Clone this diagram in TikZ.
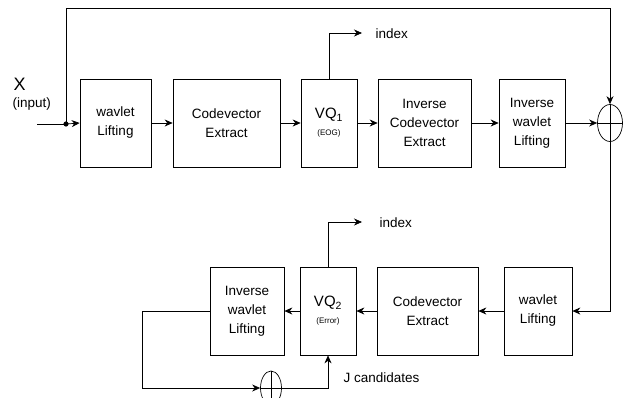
\documentclass[tikz,border=0pt]{standalone}
\usepackage{fontspec}
\setmainfont{Liberation Sans}
\usetikzlibrary{shapes.geometric, arrows.meta, positioning}
\tikzstyle{arrow} = [->, >={Stealth[length=8pt, width=7pt]}]
\tikzstyle{block} = [draw, align=center, inner sep=0pt, font=\fontsize{13.5}{19}\selectfont]
\tikzstyle{summer} = [draw, ellipse, inner sep=0pt]

\begin{document}
\begin{tikzpicture}[x=1pt, y=-1pt, line width=0.7pt]
    \useasboundingbox (0,0) rectangle (631,397);

    % Points
    \coordinate (Input) at (37,124);
    \coordinate (Tap) at (66,124);
    \coordinate (TopLeft) at (66,8);
    \coordinate (TopRight) at (610,8);
    \coordinate (Turn) at (610,311);
    \coordinate (IdxOne) at (362,33);
    \coordinate (IdxTwo) at (362,222);
    \coordinate (Back) at (142,311);

    % Upper row
    \node[block, minimum width=71, minimum height=88] (WavLift1) at (115.5,123) {wavlet\\Lifting};
    \node[block, minimum width=107, minimum height=88] (CodeExt1) at (226.5,123) {Codevector\\Extract};
    \node[block, minimum width=56, minimum height=88] (VQone) at (329,123) {\fontsize{15}{19}\selectfont VQ\textsubscript{1}\\[-2pt]{\fontsize{8}{9}\selectfont (EOG)}};
    \node[block, minimum width=93, minimum height=88] (InvCode) at (424.5,123) {Inverse\\Codevector\\Extract};
    \node[block, minimum width=66, minimum height=88] (InvWav1) at (532,123) {Inverse\\wavlet\\Lifting};
    \node[summer, minimum width=25, minimum height=37] (Sum1) at (610,123) {};
    \draw (Sum1.north) -- (Sum1.south) (Sum1.west) -- (Sum1.east);

    % Lower row
    \node[block, minimum width=68, minimum height=88] (WavLift2) at (538,311) {wavlet\\Lifting};
    \node[block, minimum width=101, minimum height=88] (CodeExt2) at (427.5,311) {Codevector\\Extract};
    \node[block, minimum width=56, minimum height=88] (VQtwo) at (328,311) {\fontsize{15}{19}\selectfont VQ\textsubscript{2}\\[-2pt]{\fontsize{8}{9}\selectfont (Error)}};
    \node[block, minimum width=74, minimum height=88] (InvWav2) at (247,311) {Inverse\\wavlet\\Lifting};
    \node[summer, minimum width=21, minimum height=34] (Sum2) at (271,388) {};
    \draw (Sum2.north) -- (Sum2.south) (Sum2.west) -- (Sum2.east);

    % Labels
    \node[anchor=west, font=\fontsize{18}{18}\selectfont] (XLabel) at (10,84) {X};
    \node[anchor=west, font=\fontsize{13.5}{14}\selectfont] (InLabel) at (9,104) {(input)};
    \node[anchor=west, font=\fontsize{13.5}{14}\selectfont] (IdxLabel1) at (372,34) {index};
    \node[anchor=west, font=\fontsize{13.5}{14}\selectfont] (IdxLabel2) at (376,223) {index};
    \node[anchor=west, font=\fontsize{13.5}{14}\selectfont] (JLabel) at (340,378) {J candidates};

    % Upper path
    \draw (Input) -- (Tap);
    \filldraw[black] (Tap) circle (2.2pt);
    \draw[arrow] (Tap) -- (WavLift1.west);
    \draw[arrow] (WavLift1) -- (CodeExt1);
    \draw[arrow] (CodeExt1) -- (VQone);
    \draw[arrow] (VQone) -- (InvCode);
    \draw[arrow] (InvCode) -- (InvWav1);
    \draw[arrow] (InvWav1) -- (Sum1.west);
    \draw[arrow] (Tap) -- (TopLeft) -- (TopRight) -- (Sum1.north);
    \draw[arrow] (VQone.north) |- (IdxOne);

    % Lower path
    \draw[arrow] (Sum1.south) -- (Turn) -- (WavLift2.east);
    \draw[arrow] (WavLift2) -- (CodeExt2);
    \draw[arrow] (CodeExt2) -- (VQtwo);
    \draw[arrow] (VQtwo) -- (InvWav2);
    \draw[arrow] (VQtwo.north) |- (IdxTwo);
    \draw[arrow] (InvWav2.west) -- (Back) |- (Sum2.west);
    \draw[arrow] (Sum2.east) -| (VQtwo.south);

\end{tikzpicture}
\end{document}
